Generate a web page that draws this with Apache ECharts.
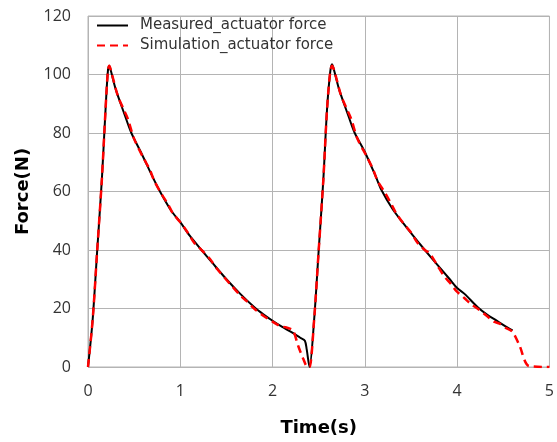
<!DOCTYPE html>
<html>
<head>
<meta charset="utf-8">
<script src="https://cdn.jsdelivr.net/npm/echarts@6/dist/echarts.min.js"></script>
<style>
  html, body { margin: 0; padding: 0; background: #fff; }
  #chart { width: 557px; height: 442px; }
</style>
</head>
<body>
<div id="chart"></div>
<script>
// Measured actuator force (time in s, force in N)
const measuredTime = [
  0, 0.05, 0.10, 0.15, 0.19, 0.215, 0.23, 0.25, 0.30, 0.40, 0.47, 0.58, 0.70, 0.78, 0.90, 1.00,
  1.10, 1.23, 1.35, 1.50, 1.65, 1.80, 1.90, 2.00, 2.10, 2.20, 2.30, 2.35, 2.37, 2.40,
  2.45, 2.50, 2.55, 2.59, 2.625, 2.645, 2.67, 2.72, 2.82, 2.89, 3.00, 3.12, 3.18, 3.30, 3.42,
  3.52, 3.65, 3.77, 3.92, 4.00, 4.08, 4.22, 4.32, 4.42, 4.52, 4.60
];
const measuredForce = [
  0, 16, 40, 64, 88, 101, 103, 101, 95, 86, 80, 73, 65, 60, 53.5, 49.5,
  45, 40, 35.5, 30, 25, 20.5, 18, 15.8, 13.8, 12, 10, 9, 6, 0,
  16, 40, 64, 88, 101, 103.5, 101, 95, 86, 80, 73.5, 65, 60.5, 54, 49,
  45, 40, 35.5, 30, 27, 25, 20.5, 18, 16, 14, 12.5
];

// Simulated actuator force
const simulationTime = [
  0, 0.05, 0.10, 0.15, 0.19, 0.215, 0.23, 0.26, 0.32, 0.38, 0.43, 0.50, 0.60, 0.67, 0.72, 0.80,
  0.87, 0.92, 1.00, 1.08, 1.15, 1.23, 1.32, 1.40, 1.48, 1.55, 1.65, 1.72, 1.80, 1.90, 2.00,
  2.08, 2.15, 2.22, 2.28, 2.33, 2.38, 2.40,
  2.45, 2.50, 2.55, 2.59, 2.625, 2.645, 2.68, 2.74, 2.80, 2.85, 2.92, 3.02, 3.09, 3.14, 3.22,
  3.29, 3.34, 3.42, 3.50, 3.57, 3.65, 3.70, 3.78, 3.86, 3.93, 3.99, 4.08, 4.15, 4.22, 4.32,
  4.40, 4.46, 4.52, 4.60, 4.675, 4.78, 5.00
];
const simulationForce = [
  0, 16, 40, 64, 88, 101, 103, 100, 93, 88.5, 85, 78, 71.5, 67.5, 63.5, 59,
  55.5, 52.5, 49.5, 46, 42.5, 40, 37, 33.5, 30.5, 28, 24.5, 22.5, 20, 17.5, 15.5,
  14, 13.5, 12.5, 7, 3, 0, 0,
  16, 40, 64, 88, 101, 103, 100, 93, 88.5, 85, 78, 72, 67.5, 63.5, 59.5,
  55.5, 52.5, 49, 46, 42.5, 40, 38.9, 35, 31, 28.5, 26, 23.5, 21.5, 20, 17.5,
  15.5, 14.8, 13.5, 12, 7.4, 0.3, 0
];

const seriesNames = ['Measured_actuator force', 'Simulation_actuator force'];
const xTicks = [0, 1, 2, 3, 4, 5];
const yTicks = [0, 20, 40, 60, 80, 100, 120];

const pairs = (xs, ys) => xs.map((x, i) => [x, ys[i]]);

const gridColor = '#b4b4b4';
const textColor = '#333333';
const labelFont = '"Open Sans", "Noto Sans", sans-serif';
const wideFont = '"DejaVu Sans", sans-serif';

const chart = echarts.init(document.getElementById('chart'), null, { renderer: 'canvas' });

chart.setOption({
  animation: false,
  backgroundColor: '#ffffff',
  grid: { left: 88, right: 7, top: 16, bottom: 70, show: true, borderColor: gridColor, borderWidth: 1 },
  legend: {
    orient: 'vertical',
    left: 91,
    top: 13,
    itemWidth: 31,
    itemHeight: 14,
    itemGap: 5,
    itemStyle: { opacity: 0 },
    textStyle: { fontFamily: wideFont, fontSize: 15, lineHeight: 14, color: textColor, padding: [0, 0, 0, 7] },
    data: seriesNames
  },
  xAxis: {
    type: 'value',
    min: xTicks[0],
    max: xTicks[xTicks.length - 1],
    interval: 1,
    name: 'Time(s)',
    nameLocation: 'middle',
    nameGap: 52,
    nameTextStyle: { fontFamily: wideFont, fontSize: 18, fontWeight: 'bold', color: '#000' },
    axisLine: { show: false },
    axisTick: { show: false },
    axisLabel: { margin: 16, fontFamily: labelFont, fontSize: 16, color: textColor },
    splitLine: { show: true, lineStyle: { color: gridColor, width: 1 } }
  },
  yAxis: {
    type: 'value',
    min: yTicks[0],
    max: yTicks[yTicks.length - 1],
    interval: 20,
    name: 'Force(N)',
    nameLocation: 'middle',
    nameGap: 44,
    nameTextStyle: { fontFamily: wideFont, fontSize: 18, fontWeight: 'bold', color: '#000' },
    axisLine: { show: false },
    axisTick: { show: false },
    axisLabel: { margin: 17, fontFamily: labelFont, fontSize: 16, color: textColor },
    splitLine: { show: true, lineStyle: { color: gridColor, width: 1 } }
  },
  series: [
    {
      name: seriesNames[0],
      type: 'line',
      data: pairs(measuredTime, measuredForce),
      showSymbol: false,
      symbol: 'none',
      smooth: 0.3,
      lineStyle: { color: '#000000', width: 2 },
      itemStyle: { color: '#000000' },
      z: 2
    },
    {
      name: seriesNames[1],
      type: 'line',
      data: pairs(simulationTime, simulationForce),
      showSymbol: false,
      symbol: 'none',
      smooth: 0.3,
      lineStyle: { color: '#ff0000', width: 2.5, type: [8, 5] },
      itemStyle: { color: '#ff0000' },
      z: 3
    }
  ]
});
</script>
</body>
</html>
